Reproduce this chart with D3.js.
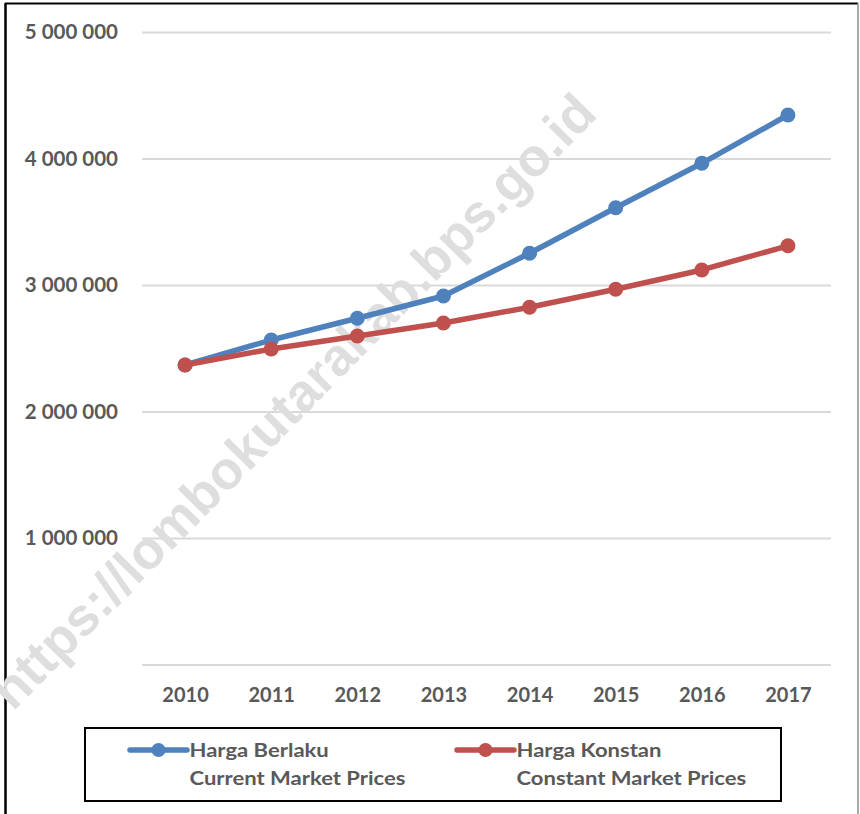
<!DOCTYPE html>
<html>
<head>
<meta charset="utf-8">
<script src="https://cdn.jsdelivr.net/npm/d3@7"></script>
<style>
  body { margin: 0; background: #fff; }
  svg text { font-family: Lato, "Open Sans", sans-serif; font-weight: bold; fill: #595959; }
</style>
</head>
<body>
<script>
// data
var years = ["2010", "2011", "2012", "2013", "2014", "2015", "2016", "2017"];
var currentPrices = [2368000, 2565000, 2737000, 2913000, 3251000, 3611000, 3962000, 4344000];
var constantPrices = [2368000, 2494000, 2597000, 2700000, 2824000, 2966000, 3119000, 3310000];
var yTicks = [0, 1000000, 2000000, 3000000, 4000000, 5000000];
var seriesNames = [
  ["Harga Berlaku", "Current Market Prices"],
  ["Harga Konstan", "Constant Market Prices"]
];
var seriesColors = ["#4f81bd", "#c0504d"];

var svg = d3.select("body").append("svg").attr("width", 860).attr("height", 814);

var x = d3.scalePoint().domain(years).range([142, 831]).padding(0.5);
var y = d3.scaleLinear().domain([0, 5000000]).range([664.5, 32]);

// frame
svg.append("line").attr("x1", 5.5).attr("x2", 5.5).attr("y1", 3).attr("y2", 814)
  .attr("stroke", "#000").attr("stroke-width", 2.5);
svg.append("line").attr("x1", 5).attr("x2", 858).attr("y1", 3.5).attr("y2", 3.5)
  .attr("stroke", "#000").attr("stroke-width", 2);
svg.append("line").attr("x1", 858).attr("x2", 858).attr("y1", 3).attr("y2", 814)
  .attr("stroke", "#8c8c8c").attr("stroke-width", 1.5);

// gridlines + y labels
var fmt = d3.format(",");
var yAxis = svg.append("g")
  .attr("transform", "translate(142,0)")
  .call(d3.axisLeft(y)
    .tickValues(yTicks)
    .tickSize(-689)
    .tickPadding(24)
    .tickFormat((d) => (d === 0 ? "" : fmt(d).replace(/,/g, " "))));
yAxis.select(".domain").remove();
yAxis.selectAll(".tick line").attr("stroke", "#d9d9d9").attr("stroke-width", 2);
yAxis.selectAll(".tick text").attr("font-size", 20.5).attr("fill", "#595959")
  .attr("font-family", null);

// x labels
var xAxis = svg.append("g")
  .attr("transform", "translate(0,664.5)")
  .call(d3.axisBottom(x).tickSize(0).tickPadding(23));
xAxis.select(".domain").remove();
xAxis.selectAll(".tick text").attr("font-size", 20).attr("fill", "#595959")
  .attr("font-family", null);

// watermark
svg.append("text")
  .attr("transform", "translate(296,404) rotate(-45.5)")
  .attr("text-anchor", "middle")
  .attr("dominant-baseline", "middle")
  .style("font-family", "'Liberation Sans', Arial, sans-serif")
  .style("font-weight", "bold")
  .style("font-size", "53px")
  .style("fill", "#dedede")
  .text("https://lombokutarakab.bps.go.id");

// lines
var line = d3.line().x((d, i) => x(years[i])).y((d) => y(d));
[currentPrices, constantPrices].forEach((vals, k) => {
  svg.append("path")
    .datum(vals)
    .attr("d", line)
    .attr("fill", "none")
    .attr("stroke", seriesColors[k])
    .attr("stroke-width", 5.5)
    .attr("stroke-linejoin", "round");
  svg.append("g")
    .selectAll("circle")
    .data(vals)
    .enter()
    .append("circle")
    .attr("cx", (d, i) => x(years[i]))
    .attr("cy", (d) => y(d))
    .attr("r", 7.5)
    .attr("fill", seriesColors[k]);
});

// legend
var legend = svg.append("g");
legend.append("rect")
  .attr("x", 85).attr("y", 728).attr("width", 696).attr("height", 73)
  .attr("fill", "#fff").attr("stroke", "#000").attr("stroke-width", 2);

var legendX = [130, 457];
seriesNames.forEach((names, k) => {
  var g = legend.append("g").attr("transform", "translate(" + legendX[k] + ",0)");
  g.append("line").attr("x1", 0).attr("x2", 57).attr("y1", 750).attr("y2", 750)
    .attr("stroke", seriesColors[k]).attr("stroke-width", 5.5).attr("stroke-linecap", "round");
  g.append("circle").attr("cx", 28.5).attr("cy", 750).attr("r", 7).attr("fill", seriesColors[k]);
  g.selectAll("text.lab")
    .data(names)
    .enter()
    .append("text")
    .attr("class", "lab")
    .attr("transform", (d, i) => "translate(59.5," + (757 + i * 28) + ") scale(1.13,1)")
    .attr("font-size", 19.5)
    .text((d) => d);
});
</script>
</body>
</html>
